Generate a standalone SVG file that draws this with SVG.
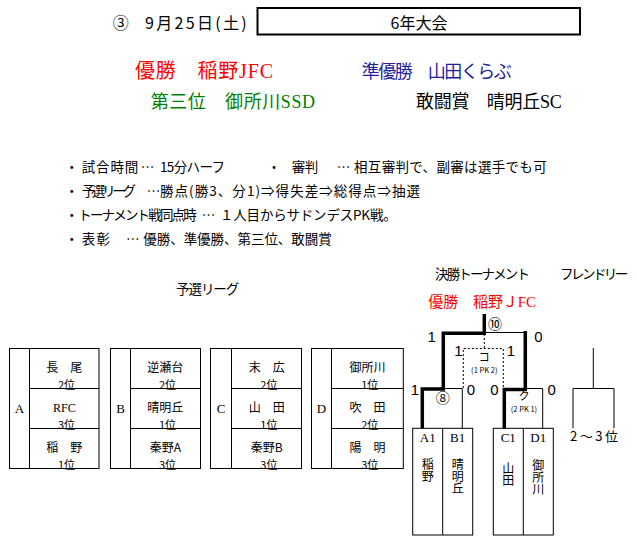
<svg xmlns="http://www.w3.org/2000/svg" width="637" height="543" viewBox="0 0 637 543">
<style>
.jp{font-family:"Noto Sans CJK JP","Noto Sans",sans-serif}
.sf{font-family:"Liberation Serif","Noto Sans CJK JP",serif}
.num{font-family:"Liberation Sans","Noto Sans CJK JP",sans-serif;font-size:15px}
.nt{font-size:13.5px}
.nm{font-size:12px;text-anchor:middle}
.rk{font-size:11px;text-anchor:middle}
.vt{font-size:12px;writing-mode:vertical-rl}
.ln{fill:none;stroke:#000;stroke-width:1}
.thk{fill:none;stroke:#000;stroke-width:3.5;stroke-linejoin:miter;stroke-linecap:butt}
.dsh{fill:none;stroke:#000;stroke-width:1;stroke-dasharray:2,2}
.mid{text-anchor:middle}
</style>
<rect width="637" height="543" fill="#fff"/>

<g id="header">
<text class="jp" x="112.7" y="28.5" font-size="16">③</text>
<text class="jp" x="145" y="28.5" font-size="16" textLength="101.7">9月25日(土)</text>
<rect x="257.5" y="8" width="322.5" height="26.5" fill="none" stroke="#000" stroke-width="2"/>
<text class="jp mid" x="419" y="28.5" font-size="16">6年大会</text>
</g>

<g id="prizes">
<text class="sf" x="135" y="78" font-size="20" style="fill:#ff0000" textLength="138">優勝　稲野JFC</text>
<text class="jp" x="361.7" y="78" font-size="18" style="fill:#1f1fa0" textLength="150">準優勝　山田くらぶ</text>
<text class="sf" x="150.7" y="108" font-size="18" style="fill:#008000" textLength="164.3">第三位　御所川SSD</text>
<text class="sf" x="416" y="108" font-size="18" style="fill:#000" textLength="145.7">敢闘賞　晴明丘SC</text>
</g>

<g id="notes" class="jp nt">
<text class="mid" x="71.7" y="172">・</text>
<text x="81.7" y="172" textLength="56.6">試合時間</text>
<text x="140.7" y="172" textLength="11">…</text>
<text x="160" y="172" textLength="65">15分ハーフ</text>
<text class="mid" x="274" y="172">・</text>
<text x="291.7" y="172" textLength="26.6">審判</text>
<text x="336.7" y="172" textLength="11">…</text>
<text x="354" y="172" textLength="192.7">相互審判で、副審は選手でも可</text>

<text class="mid" x="71.7" y="196">・</text>
<text x="81.7" y="196" textLength="54.3">予選リーグ</text>
<text x="146.7" y="196" textLength="11">…</text>
<text x="160" y="196" textLength="260">勝点(勝3、分1)⇒得失差⇒総得点⇒抽選</text>

<text class="mid" x="71.7" y="220">・</text>
<text x="78.3" y="220" textLength="118.4">トーナメント戦同点時</text>
<text x="201.7" y="220" textLength="11">…</text>
<text x="220" y="220" textLength="176.7">１人目からサドンデスPK戦。</text>

<text class="mid" x="71.7" y="244">・</text>
<text x="81.7" y="244" textLength="28.3">表彰</text>
<text x="126" y="244" textLength="11">…</text>
<text x="143.3" y="244" textLength="188.4">優勝、準優勝、第三位、敢闘賞</text>
</g>

<g id="titles">
<text class="jp nt" x="176" y="293.5" textLength="63.3">予選リーグ</text>
<text class="jp nt" x="435" y="279" textLength="95">決勝トーナメント</text>
<text class="jp nt" x="560" y="279" textLength="68.3">フレンドリー</text>
<text class="sf" x="428.3" y="307" font-size="15" style="fill:#ff0000" textLength="107.7">優勝　稲野ＪFC</text>
</g>

<g id="group-A">
<rect class="ln" x="9.5" y="348.5" width="89.5" height="120"/>
<path class="ln" d="M29.5,348.5V468.5M29.5,388.5H99M29.5,428.5H99"/>
<text class="sf" x="19.5" y="413" font-size="13" text-anchor="middle">A</text>
<text class="jp nm" x="64.3" y="372">長　尾</text>
<text class="jp rk" x="66.5" y="388.5">2位</text>
<text class="sf nm" x="64.3" y="412">RFC</text>
<text class="jp rk" x="66.5" y="428.5">3位</text>
<text class="jp nm" x="64.3" y="452">稲　野</text>
<text class="jp rk" x="66.5" y="468.5">1位</text>
</g>

<g id="group-B">
<rect class="ln" x="110.5" y="348.5" width="90" height="120"/>
<path class="ln" d="M130.5,348.5V468.5M130.5,388.5H200.5M130.5,428.5H200.5"/>
<text class="sf" x="120.5" y="413" font-size="13" text-anchor="middle">B</text>
<text class="jp nm" x="165.3" y="372">逆瀬台</text>
<text class="jp rk" x="167.5" y="388.5">2位</text>
<text class="jp nm" x="165.3" y="412">晴明丘</text>
<text class="jp rk" x="167.5" y="428.5">1位</text>
<text class="jp nm" x="165.3" y="452">秦野A</text>
<text class="jp rk" x="167.5" y="468.5">3位</text>
</g>

<g id="group-C">
<rect class="ln" x="210.5" y="348.5" width="91" height="120"/>
<path class="ln" d="M231.5,348.5V468.5M231.5,388.5H301.5M231.5,428.5H301.5"/>
<text class="sf" x="221" y="413" font-size="13" text-anchor="middle">C</text>
<text class="jp nm" x="266.7" y="372">末　広</text>
<text class="jp rk" x="268.9" y="388.5">2位</text>
<text class="jp nm" x="266.7" y="412">山　田</text>
<text class="jp rk" x="268.9" y="428.5">1位</text>
<text class="jp nm" x="266.7" y="452">秦野B</text>
<text class="jp rk" x="268.9" y="468.5">3位</text>
</g>

<g id="group-D">
<rect class="ln" x="311.5" y="348.5" width="91.8" height="120"/>
<path class="ln" d="M331.5,348.5V468.5M331.5,388.5H403.3M331.5,428.5H403.3"/>
<text class="sf" x="321.5" y="413" font-size="13" text-anchor="middle">D</text>
<text class="jp nm" x="367.5" y="372">御所川</text>
<text class="jp rk" x="369.7" y="388.5">1位</text>
<text class="jp nm" x="367.5" y="412">吹　田</text>
<text class="jp rk" x="369.7" y="428.5">2位</text>
<text class="jp nm" x="367.5" y="452">陽　明</text>
<text class="jp rk" x="369.7" y="468.5">3位</text>
</g>

<g id="team-box-AB">
<rect class="ln" x="412.7" y="428.3" width="60" height="106.7"/>
<path class="ln" d="M442.7,428.3V535"/>
<text class="sf mid" x="427.7" y="441.5" font-size="13">A1</text>
<text class="sf mid" x="457.7" y="441.5" font-size="13">B1</text>
<text class="jp vt" x="427.7" y="458">稲野</text>
<text class="jp vt" x="457.7" y="458">晴明丘</text>
</g>

<g id="team-box-CD">
<rect class="ln" x="493.3" y="428.3" width="60" height="106.7"/>
<path class="ln" d="M523.3,428.3V535"/>
<text class="sf mid" x="508.3" y="441.5" font-size="13">C1</text>
<text class="sf mid" x="538.3" y="441.5" font-size="13">D1</text>
<text class="jp vt" x="508.3" y="462">山田</text>
<text class="jp vt" x="538.3" y="459.5">御所川</text>
</g>

<g id="connectors">
<path class="ln" d="M484.3,332.5H525.3"/>
<path class="ln" d="M443.3,388.5H462.3V428.3"/>
<path class="ln" d="M525,388.5H542.7V428.3"/>
<path class="dsh" d="M484.3,334V348.5M463.3,388V348.5H503.3V388"/>
<path class="thk" d="M422.3,428.3V389H443.3V333.3H486"/>
<path class="thk" d="M484.3,314V335"/>
<path class="thk" d="M504.3,428.3V389.5H525.3V331"/>
<path class="ln" d="M593.3,348V388.5M573,428.3V388.5H614V428.3"/>
</g>

<g id="match-labels">
<text class="num mid" x="431.7" y="342.3">1</text>
<text class="num mid" x="538.3" y="342.3">0</text>
<text class="num mid" x="458.3" y="355.5">1</text>
<text class="num mid" x="511" y="355.5">1</text>
<text class="num mid" x="415" y="394.5">1</text>
<text class="num mid" x="471" y="394.5">0</text>
<text class="num mid" x="494.3" y="394.5">0</text>
<text class="num mid" x="551.7" y="394.5">0</text>
<text class="jp mid" x="495" y="328.5" font-size="14">⑩</text>
<text class="jp mid" x="442.7" y="402.5" font-size="14">⑧</text>
<text class="jp mid" x="484.3" y="360.5" font-size="11">コ</text>
<text class="jp mid" x="484.3" y="373" font-size="7.5">(1 PK 2)</text>
<text class="jp mid" x="524" y="399.5" font-size="11">ク</text>
<text class="jp mid" x="524" y="412" font-size="7.5">(2 PK 1)</text>
<text class="jp" x="570" y="441" font-size="13" textLength="48">2〜3位</text>
</g>
</svg>
